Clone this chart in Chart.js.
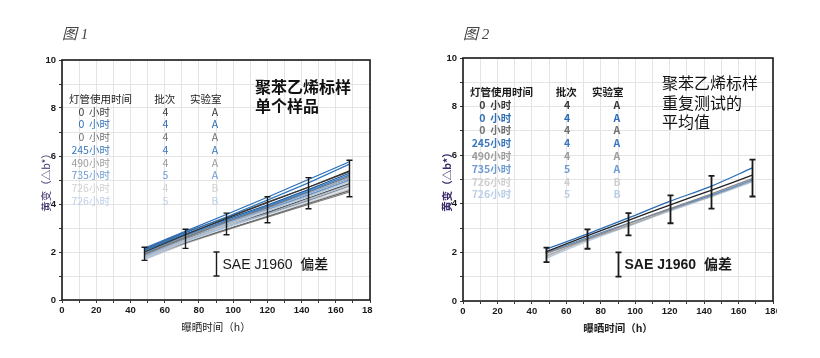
<!DOCTYPE html>
<html>
<head>
<meta charset="utf-8">
<script src="https://cdn.jsdelivr.net/npm/chart.js@4"></script>
<style>
  body { margin: 0; background: #fff; width: 820px; height: 358px; position: relative; overflow: hidden; }
  .wrap { position: absolute; top: 0; height: 358px; overflow: hidden; }
</style>
</head>
<body>
<div class="wrap" style="left:0;width:373px"><canvas id="fig1" width="410" height="358"></canvas></div>
<div class="wrap" style="left:400px;width:377px"><canvas id="fig2" width="420" height="358"></canvas></div>
<script>
// exposure hours (x) and axis ticks
const hours = [48, 72, 96, 120, 144, 168];
const xTickLabels = [0, 20, 40, 60, 80, 100, 120, 140, 160, 180];
const yTickLabels = [0, 2, 4, 6, 8, 10];

// legend table (lamp age, batch, lab)
const lampAge = ['0  小时', '0  小时', '0  小时', '245小时', '490小时', '735小时', '726小时', '726小时'];
const batch = ['4', '4', '4', '4', '4', '5', '4', '5'];
const lab = ['A', 'A', 'A', 'A', 'A', 'A', 'B', 'B'];
const rowColors = ['#3a3a3a', '#2e6db4', '#707070', '#3b78bd', '#9c9c9c', '#6e9bd0', '#d0d0d0', '#bccfe6'];

// fig 1: single samples (yellowing, delta b*)
const f1Lines = [
  [2.15, 2.86, 3.56, 4.28, 5.02, 5.76],
  [2.08, 2.80, 3.46, 4.16, 4.88, 5.66],
  [2.00, 2.72, 3.40, 4.05, 4.70, 5.38],
  [2.05, 2.75, 3.36, 3.96, 4.60, 5.28],
  [1.98, 2.70, 3.30, 3.90, 4.52, 5.22],
  [1.90, 2.60, 3.25, 3.85, 4.50, 5.15],
  [1.85, 2.58, 3.20, 3.80, 4.45, 5.10],
  [1.95, 2.65, 3.30, 3.85, 4.45, 5.05],
  [1.92, 2.62, 3.22, 3.78, 4.38, 5.00],
  [1.80, 2.50, 3.15, 3.75, 4.35, 4.98],
  [1.75, 2.50, 3.10, 3.70, 4.30, 4.92],
  [1.88, 2.55, 3.12, 3.65, 4.25, 4.85],
  [1.70, 2.45, 3.05, 3.62, 4.20, 4.80],
  [1.82, 2.48, 3.05, 3.60, 4.15, 4.75],
  [1.72, 2.42, 3.00, 3.55, 4.10, 4.70],
  [1.78, 2.40, 2.95, 3.48, 4.02, 4.56],
  [1.75, 2.38, 2.92, 3.45, 3.98, 4.50],
  [1.68, 2.35, 2.90, 3.50, 4.05, 4.62],
  [1.95, 2.66, 3.28, 3.92, 4.56, 5.20],
  [2.10, 2.82, 3.44, 4.08, 4.70, 5.35]
];
const f1Colors = ['#2a6cb5', '#2f78c0', '#333333', '#1f5a9e', '#3c7fc4', '#777777', '#8fb1d9', '#999999',
  '#5b8fcb', '#bbbbbb', '#b5cbe5', '#555555', '#a5c0e0', '#8a8a8a', '#cdd9e8', '#666666', '#7a7a7a',
  '#c8c8c8', '#6f9fd3', '#4a4a4a'];
const f1ErrLow = [1.65, 2.15, 2.72, 3.22, 3.80, 4.30];
const f1ErrHigh = [2.20, 2.95, 3.62, 4.30, 5.10, 5.82];

// fig 2: averages of repeat tests
const f2Lines = [
  [2.12, 2.75, 3.42, 4.10, 4.72, 5.48],
  [2.02, 2.68, 3.32, 3.95, 4.55, 5.18],
  [1.95, 2.55, 3.18, 3.80, 4.40, 5.04],
  [1.98, 2.60, 3.20, 3.78, 4.35, 4.98],
  [1.85, 2.52, 3.10, 3.74, 4.32, 4.94],
  [1.80, 2.50, 3.12, 3.72, 4.30, 4.96],
  [1.75, 2.45, 3.08, 3.70, 4.28, 4.90]
];
const f2Colors = ['#2a6cb5', '#222222', '#888888', '#5b8fcb', '#a8a8a8', '#c4c4c4', '#b8cce4'];
const f2ErrLow = [1.60, 2.15, 2.70, 3.20, 3.80, 4.30];
const f2ErrHigh = [2.20, 2.95, 3.62, 4.35, 5.15, 5.82];

const CJK = '"Noto Sans CJK SC", "Liberation Sans", sans-serif';

function overlay(o) {
  return {
    id: 'overlay' + o.num,
    afterDatasetsDraw(chart) {
      const { ctx, chartArea: a, scales: { x, y } } = chart;
      ctx.save();
      // error bars
      ctx.strokeStyle = '#1a1a1a';
      ctx.lineWidth = o.errWidth;
      hours.forEach((h, i) => {
        const px = Math.round(x.getPixelForValue(h)) + 0.5;
        const y1 = y.getPixelForValue(o.low[i]), y2 = y.getPixelForValue(o.high[i]);
        ctx.beginPath();
        ctx.moveTo(px, y1); ctx.lineTo(px, y2);
        ctx.moveTo(px - 3, y1); ctx.lineTo(px + 3, y1);
        ctx.moveTo(px - 3, y2); ctx.lineTo(px + 3, y2);
        ctx.stroke();
      });
      // SAE J1960 deviation bar
      const sx = Math.round(x.getPixelForValue(90)) + 0.5;
      const s1 = y.getPixelForValue(1), s2 = y.getPixelForValue(2);
      ctx.beginPath();
      ctx.moveTo(sx, s1); ctx.lineTo(sx, s2);
      ctx.moveTo(sx - 3, s1); ctx.lineTo(sx + 3, s1);
      ctx.moveTo(sx - 3, s2); ctx.lineTo(sx + 3, s2);
      ctx.stroke();
      ctx.fillStyle = '#1a1a1a';
      ctx.textBaseline = 'middle';
      ctx.textAlign = 'left';
      ctx.font = o.saeWeight + ' 14px "Liberation Sans", ' + CJK;
      ctx.fillText('SAE J1960  偏差', sx + 6, y.getPixelForValue(1.47));

      // frame
      ctx.strokeStyle = '#1a1a1a';
      ctx.lineWidth = 1.6;
      ctx.strokeRect(a.left, a.top, a.right - a.left, a.bottom - a.top);

      // legend table
      const w = o.legendWeight;
      ctx.font = w + ' 10.5px ' + CJK;
      ctx.fillStyle = '#1a1a1a';
      let hy = y.getPixelForValue(o.headY);
      ctx.textAlign = 'left';
      ctx.fillText('灯管使用时间', x.getPixelForValue(4.1), hy);
      ctx.textAlign = 'center';
      ctx.fillText('批次', x.getPixelForValue(60), hy);
      ctx.fillText('实验室', x.getPixelForValue(84), hy);
      lampAge.forEach((t, i) => {
        const ry = y.getPixelForValue(o.headY - o.rowGap * (i + 1));
        ctx.fillStyle = rowColors[i];
        ctx.textAlign = 'right';
        ctx.fillText(t, x.getPixelForValue(28), ry);
        ctx.textAlign = 'center';
        ctx.fillText(batch[i], x.getPixelForValue(60.5), ry);
        ctx.fillText(lab[i], x.getPixelForValue(89.4), ry);
      });

      // sample note
      ctx.fillStyle = '#111';
      ctx.textAlign = 'left';
      ctx.font = o.noteWeight + ' 16px ' + CJK;
      o.note.forEach((t, i) => {
        ctx.fillText(t, x.getPixelForValue(o.noteX), y.getPixelForValue(o.noteY - o.noteGap * i));
      });

      // figure number
      ctx.font = 'italic 15px "Liberation Serif", ' + CJK;
      ctx.fillStyle = '#444';
      ctx.fillText(o.fig, a.left, 35);

      // axis titles
      ctx.font = o.axisWeight + ' 10.5px ' + CJK;
      ctx.fillStyle = '#222';
      ctx.textAlign = 'center';
      ctx.fillText('曝晒时间（h）', (a.left + a.right) / 2, a.bottom + 27);
      ctx.translate(a.left - 16, (a.top + a.bottom) / 2);
      ctx.rotate(-Math.PI / 2);
      ctx.fillStyle = '#3a2a6a';
      ctx.fillText('黄变（△b*）', 0, 0);
      ctx.restore();
    }
  };
}

function makeChart(id, lines, colors, tension, lineW, padRight, padTop, yWidth, xHeight, o) {
  const ctx = document.getElementById(id).getContext('2d');
  return new Chart(ctx, {
    type: 'line',
    data: {
      datasets: lines.map((vals, i) => ({
        data: hours.map((h, j) => ({ x: h, y: vals[j] })),
        borderColor: colors[i],
        borderWidth: lineW,
        pointRadius: 0,
        tension: tension,
        fill: false
      }))
    },
    options: {
      responsive: false,
      animation: false,
      devicePixelRatio: 1,
      layout: { padding: { left: 0, right: padRight, top: padTop, bottom: 0 } },
      plugins: { legend: { display: false }, tooltip: { enabled: false } },
      scales: {
        x: {
          type: 'linear', min: 0, max: 180,
          grid: { color: '#e4e4e4', tickColor: '#333', tickLength: 3 },
          border: { display: false },
          ticks: {
            stepSize: 10, autoSkip: false, maxRotation: 0, padding: 2,
            color: '#1a1a1a', font: { family: '"Liberation Sans", Arial', size: 9.5, weight: 'bold' },
            callback: v => xTickLabels.includes(v) ? String(v) : ''
          },
          afterFit: s => { s.height = xHeight; s.paddingLeft = 0; s.paddingRight = 0; }
        },
        y: {
          min: 0, max: 10,
          grid: { color: '#e4e4e4', tickColor: '#333', tickLength: 3 },
          border: { display: false },
          ticks: {
            stepSize: 1, autoSkip: false, padding: 3,
            color: '#1a1a1a', font: { family: '"Liberation Sans", Arial', size: 9.5, weight: 'bold' },
            callback: v => yTickLabels.includes(v) ? String(v) : ''
          },
          afterFit: s => { s.width = yWidth; s.paddingTop = 0; s.paddingBottom = 0; }
        }
      }
    },
    plugins: [overlay(o)]
  });
}

makeChart('fig1', f1Lines, f1Colors, 0, 1.2, 40, 60, 62, 58, {
  num: 1, fig: '图 1', low: f1ErrLow, high: f1ErrHigh, errWidth: 1.4,
  headY: 8.375, rowGap: 0.53, legendWeight: 'normal',
  note: ['聚苯乙烯标样', '单个样品'], noteX: 112.8, noteY: 8.875, noteGap: 0.8, noteWeight: 'bold',
  saeWeight: '500', axisWeight: 'normal'
});
makeChart('fig2', f2Lines, f2Colors, 0.3, 1.3, 47, 58, 63, 57, {
  num: 2, fig: '图 2', low: f2ErrLow, high: f2ErrHigh, errWidth: 1.8,
  headY: 8.6, rowGap: 0.527, legendWeight: 'bold',
  note: ['聚苯乙烯标样', '重复测试的', '平均值'], noteX: 115.6, noteY: 8.97, noteGap: 0.8, noteWeight: 'normal',
  saeWeight: 'bold', axisWeight: 'bold'
});
</script>
</body>
</html>
